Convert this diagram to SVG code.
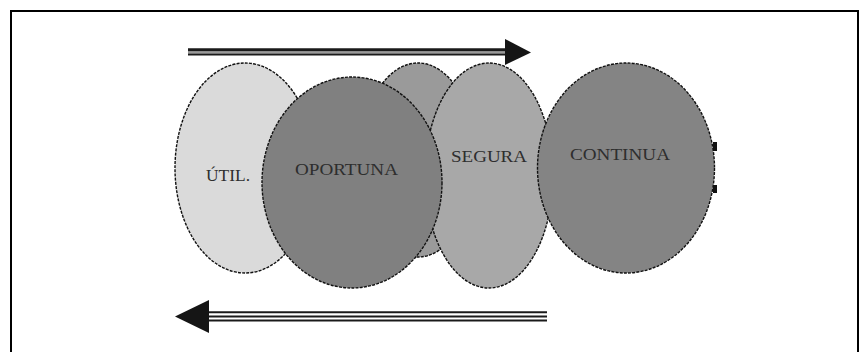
<svg xmlns="http://www.w3.org/2000/svg" width="868" height="352" viewBox="0 0 868 352">
  <style>
    .frame { fill: none; stroke: #000; stroke-width: 2; }
    .oval { stroke: #111; stroke-width: 1.4; stroke-dasharray: 3 1.2; }
    .label { font-family: "Liberation Serif", "Times New Roman", serif; font-size: 17px; fill: #2e2e2e; }
    .dark { stroke: #1a1a1a; fill: none; }
    .head { fill: #151515; }
  </style>

  <rect width="868" height="352" fill="#ffffff"/>
  <path class="frame" d="M11,353 V11 H858 V353"/>

  <!-- ovals, back to front -->
  <g id="util">
    <ellipse class="oval" cx="245" cy="168" rx="70" ry="105" fill="#dadada"/>
    <text class="label" x="206" y="181" textLength="44" lengthAdjust="spacingAndGlyphs">ÚTIL.</text>
  </g>
  <g id="back-oval">
    <ellipse class="oval" cx="418" cy="160" rx="58" ry="97" fill="#9a9a9a"/>
  </g>
  <g id="segura">
    <ellipse class="oval" cx="489" cy="175.5" rx="64" ry="112.5" fill="#a8a8a8"/>
    <text class="label" x="451" y="161.5" textLength="76" lengthAdjust="spacingAndGlyphs">SEGURA</text>
  </g>
  <g id="oportuna">
    <ellipse class="oval" cx="352" cy="182.5" rx="90" ry="105.5" fill="#808080"/>
    <text class="label" x="295" y="174.5" textLength="103" lengthAdjust="spacingAndGlyphs">OPORTUNA</text>
  </g>
  <g id="continua">
    <ellipse class="oval" cx="626" cy="168" rx="88.5" ry="105" fill="#848484"/>
    <text class="label" x="570" y="160" textLength="100" lengthAdjust="spacingAndGlyphs">CONTINUA</text>
    <rect x="713" y="142" width="4" height="9" fill="#111"/>
    <rect x="713" y="185" width="4" height="8" fill="#111"/>
  </g>

  <!-- connectors: the two flow arrows -->
  <g id="connectors">
    <g id="arrow-forward">
      <line class="dark" x1="188" y1="49.8" x2="506" y2="49.8" stroke-width="3.2"/>
      <line x1="188" y1="52.7" x2="506" y2="52.7" stroke="#9a9a9a" stroke-width="1.4"/>
      <line class="dark" x1="188" y1="54.6" x2="506" y2="54.6" stroke-width="2" stroke="#333"/>
      <polygon class="head" points="505,39 531,52.5 505,65"/>
    </g>
    <g id="arrow-back">
      <line class="dark" x1="208" y1="312.3" x2="547" y2="312.3" stroke-width="2"/>
      <line class="dark" x1="208" y1="316.6" x2="547" y2="316.6" stroke-width="2"/>
      <line class="dark" x1="208" y1="320.6" x2="547" y2="320.6" stroke-width="2"/>
      <polygon class="head" points="209,300 175,316.5 209,333"/>
    </g>
  </g>
</svg>
